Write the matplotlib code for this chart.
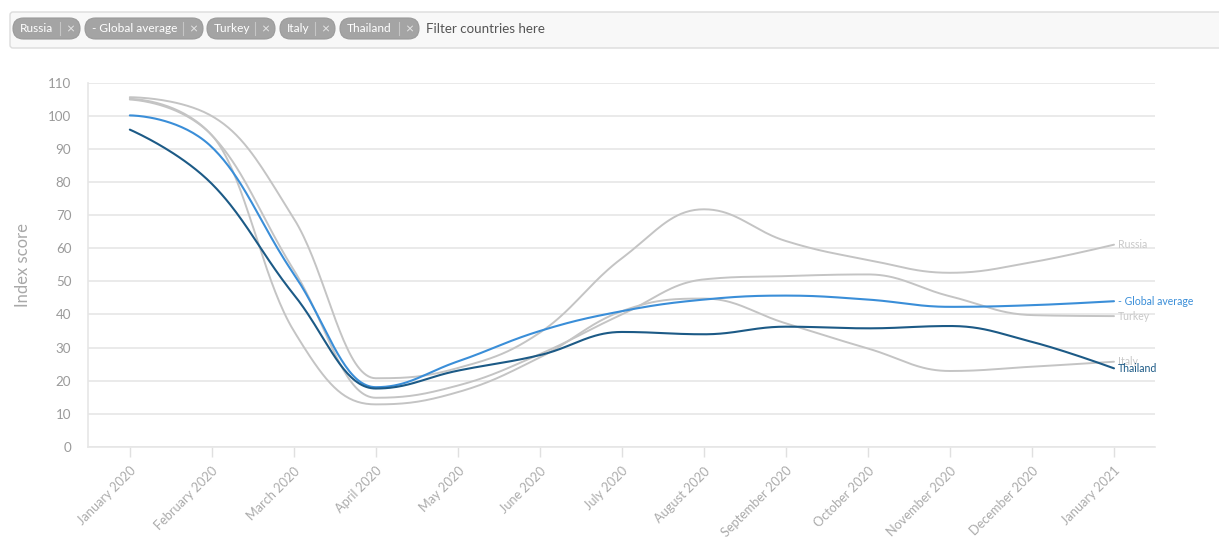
import numpy as np
import matplotlib
matplotlib.use("Agg")
import matplotlib.pyplot as plt
from matplotlib.patches import FancyBboxPatch

plt.rcParams['font.family'] = ['Lato', 'DejaVu Sans']

# monthly index scores
months = ["January 2020", "February 2020", "March 2020", "April 2020", "May 2020",
          "June 2020", "July 2020", "August 2020", "September 2020", "October 2020",
          "November 2020", "December 2020", "January 2021"]
russia = [105.7, 100.0, 69.0, 20.7, 23.8, 34.5, 57.0, 71.8, 62.2, 56.5, 52.6, 55.8, 61.1]
global_avg = [100.2, 90.6, 52.2, 18.0, 25.8, 35.0, 41.0, 44.5, 45.7, 44.5, 42.3, 42.8, 44.0]
turkey = [105.0, 94.2, 53.4, 14.8, 18.5, 28.0, 40.0, 50.6, 51.6, 52.1, 45.5, 39.8, 39.5]
italy = [105.2, 94.2, 35.0, 12.8, 16.5, 27.0, 41.0, 44.8, 37.3, 29.7, 22.9, 24.2, 25.7]
thailand = [95.9, 79.5, 46.0, 17.6, 23.0, 27.7, 34.7, 34.0, 36.3, 35.8, 36.5, 31.7, 23.7]

chips = ["Russia", "- Global average", "Turkey", "Italy", "Thailand"]

GREY = "#c4c4c4"
BLUE = "#3a8ed8"
DARK = "#1c5a86"


def spline(xs, ys, smoothing=1.5, n=40):
    # Highcharts-style spline: cubic bezier segments with collinear control points
    xs = np.asarray(xs, float)
    ys = np.asarray(ys, float)
    m = len(xs)
    lc = [(xs[i], ys[i]) for i in range(m)]
    rc = [(xs[i], ys[i]) for i in range(m)]
    d = smoothing + 1
    for i in range(1, m - 1):
        x, y = xs[i], ys[i]
        lx, ly = xs[i - 1], ys[i - 1]
        nx, ny = xs[i + 1], ys[i + 1]
        lcx = (smoothing * x + lx) / d
        lcy = (smoothing * y + ly) / d
        rcx = (smoothing * x + nx) / d
        rcy = (smoothing * y + ny) / d
        corr = (rcy - lcy) * (rcx - x) / (rcx - lcx) + y - rcy
        lcy += corr
        rcy += corr
        if lcy > ly and lcy > y:
            lcy = max(ly, y)
            rcy = 2 * y - lcy
        elif lcy < ly and lcy < y:
            lcy = min(ly, y)
            rcy = 2 * y - lcy
        if rcy > ny and rcy > y:
            rcy = max(ny, y)
            lcy = 2 * y - rcy
        elif rcy < ny and rcy < y:
            rcy = min(ny, y)
            lcy = 2 * y - rcy
        lc[i] = (lcx, lcy)
        rc[i] = (rcx, rcy)
    t = np.linspace(0, 1, n)[:, None]
    out = []
    for i in range(m - 1):
        p0 = np.array([xs[i], ys[i]])
        p1 = np.array(rc[i])
        p2 = np.array(lc[i + 1])
        p3 = np.array([xs[i + 1], ys[i + 1]])
        seg = ((1 - t) ** 3) * p0 + 3 * ((1 - t) ** 2) * t * p1 + 3 * (1 - t) * t ** 2 * p2 + t ** 3 * p3
        out.append(seg if i == 0 else seg[1:])
    pts = np.vstack(out)
    return pts[:, 0], pts[:, 1]


fig = plt.figure(figsize=(12.19, 5.37), dpi=100)

# filter bar across the top, drawn in pixel coordinates
top = fig.add_axes([0, 0, 1, 1], zorder=0)
top.set_xlim(0, 1219)
top.set_ylim(537, 0)
top.axis("off")
top.add_patch(FancyBboxPatch((10, 12), 1215, 36, boxstyle="round,pad=0,rounding_size=3",
                             fc="#f8f8f8", ec="#dcdcdc", lw=1))
chip_x = [13, 85, 207, 280, 340]
chip_w = [67, 118, 68, 55, 79]
for cx, cw, name in zip(chip_x, chip_w, chips):
    top.add_patch(FancyBboxPatch((cx, 18), cw, 21, boxstyle="round,pad=0,rounding_size=10.5",
                                 fc="#a4a4a4", ec="#9a9a9a", lw=0.8))
    top.text(cx + 7, 29, name, color="white", fontsize=8.6, va="center", ha="left")
    top.plot([cx + cw - 20, cx + cw - 20], [22, 35], color="#c6c6c6", lw=0.8)
    top.text(cx + cw - 10, 29, "\u00d7", color="#e6e6e6", fontsize=10, va="center", ha="center")
top.text(426, 29, "Filter countries here", color="#555555", fontsize=9.6, va="center", ha="left")

ax = fig.add_axes([88 / 1219, 1 - 446.7 / 537, (1155 - 88) / 1219, (446.7 - 83) / 537], zorder=1)
x = np.arange(len(months))

series = [(russia, GREY, 1.4, "Russia"), (turkey, GREY, 1.4, "Turkey"),
          (italy, GREY, 1.4, "Italy"), (global_avg, BLUE, 1.5, "- Global average"),
          (thailand, DARK, 1.5, "Thailand")]
for vals, col, lw, name in series:
    sx, sy = spline(x, vals)
    ax.plot(sx, sy, color=col, lw=lw, solid_capstyle="round")
    ax.annotate(name, (x[-1], vals[-1]), xytext=(3, 0), textcoords="offset points",
                color=col if col != GREY else "#c8c8c8", fontsize=7.6, va="center", ha="left",
                annotation_clip=False)

ax.set_xlim(-0.51, 12.5)
ax.set_ylim(0, 110)
ax.set_yticks(np.arange(0, 111, 10))
ax.yaxis.grid(True, color="#e6e6e6", lw=1.2)
ax.set_axisbelow(True)
for s in ["top", "right"]:
    ax.spines[s].set_visible(False)
ax.spines["left"].set_color("#e6e6e6")
ax.spines["bottom"].set_color("#e6e6e6")
ax.spines["left"].set_linewidth(1.2)
ax.spines["bottom"].set_linewidth(1.2)
ax.tick_params(axis="y", length=0, pad=12, labelcolor="#9a9a9a", labelsize=9.6)
ax.set_xticks(x)
ax.set_xticklabels(months, rotation=45, ha="right", rotation_mode="anchor")
ax.tick_params(axis="x", length=7, width=1, color="#e0e0e0", pad=6,
               labelcolor="#ababab", labelsize=9.2)
ax.set_ylabel("Index score", color="#a8a8a8", fontsize=12, labelpad=12)

fig.savefig("out.png", dpi=100)
